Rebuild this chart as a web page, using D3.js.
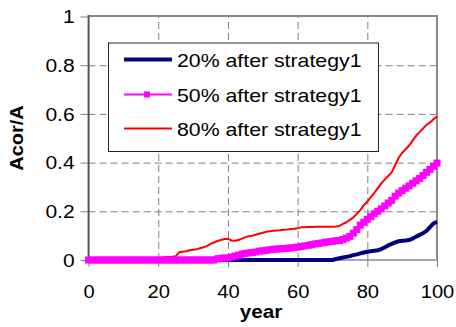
<!DOCTYPE html>
<html>
<head>
<meta charset="utf-8">
<script src="https://cdn.jsdelivr.net/npm/d3@7"></script>
<style>
  html, body { margin: 0; padding: 0; background: #fff; }
  svg { display: block; }
  text { font-family: "Liberation Sans", Arial, sans-serif; fill: #000; }
</style>
</head>
<body>
<svg id="chart" width="456" height="327"></svg>
<script>
// Share of area affected (Acor/A) per year for three strategy-1 scenarios
const years = d3.range(0, 101);

const series20 = [
  0,0,0,0,0,0,0,0,0,0, 0,0,0,0,0,0,0,0,0,0,
  0,0,0,0,0,0,0,0,0,0, 0,0,0,0,0,0,0,0,0,0,
  0,0,0,0,0,0,0,0,0,0, 0,0,0,0,0,0,0,0,0,0,
  0,0,0,0,0,0,0,0,0,0, 0,0.004,0.007,0.010,0.013,0.016,0.020,0.023,0.027,0.031,
  0.034,0.036,0.038,0.040,0.045,0.052,0.060,0.066,0.072,0.077,
  0.079,0.080,0.082,0.088,0.096,0.103,0.110,0.120,0.135,0.150,
  0.157
];

const series50 = [
  0,0,0,0,0,0,0,0,0,0, 0,0,0,0,0,0,0,0,0,0,
  0,0,0,0,0,0,0,0,0,0, 0,0,0,0,0,0,0,0.005,0.007,0.008,
  0.009,0.012,0.016,0.020,0.024,0.027,0.029,0.031,0.033,0.036,
  0.038,0.040,0.042,0.044,0.045,0.046,0.047,0.048,0.050,0.051,
  0.053,0.055,0.058,0.060,0.063,0.066,0.068,0.070,0.073,0.075,
  0.077,0.079,0.080,0.084,0.090,0.097,0.110,0.125,0.143,0.155,
  0.167,0.178,0.190,0.200,0.210,0.222,0.234,0.245,0.262,0.275,
  0.285,0.295,0.304,0.315,0.325,0.335,0.347,0.360,0.372,0.385,
  0.398
];

const series80 = [
  0,0,0,0,0,0,0,0,0,0, 0,0,0,0,0,0,0,0,0,0,
  0,0,0.012,0.012,0.013,0.015,0.032,0.034,0.036,0.040,
  0.042,0.044,0.048,0.052,0.058,0.066,0.072,0.078,0.082,0.086,
  0.087,0.080,0.079,0.082,0.088,0.094,0.098,0.100,0.104,0.108,
  0.112,0.116,0.118,0.120,0.121,0.122,0.124,0.125,0.127,0.128,
  0.130,0.134,0.135,0.136,0.136,0.137,0.137,0.137,0.137,0.137,
  0.137,0.138,0.140,0.148,0.155,0.165,0.175,0.190,0.205,0.225,
  0.240,0.258,0.275,0.295,0.315,0.330,0.345,0.360,0.390,0.420,
  0.440,0.455,0.470,0.490,0.510,0.525,0.540,0.555,0.565,0.578,
  0.590
];

const legendLabels = ["20% after strategy1", "50% after strategy1", "80% after strategy1"];
const xTicks = [0, 20, 40, 60, 80, 100];
const yTicks = [0, 0.2, 0.4, 0.6, 0.8, 1];

const svg = d3.select("#chart");
const plotLeft = 88.6, plotRight = 437, plotTop = 16.5, plotBottom = 260;
const x = d3.scaleLinear().domain([0, 100]).range([plotLeft, plotRight]);
const y = d3.scaleLinear().domain([0, 1]).range([plotBottom, plotTop]);

// widen a text element horizontally by factor k
function stretch(node, k) {
  const w = node.getComputedTextLength();
  d3.select(node).attr("textLength", w * k).attr("lengthAdjust", "spacingAndGlyphs");
}

const gridColor = "#808080";

// gridlines
const gridY = svg.append("g").attr("transform", `translate(${plotLeft},0)`)
  .call(d3.axisLeft(y).tickValues([0.2, 0.4, 0.6, 0.8]).tickSize(-(plotRight - plotLeft)).tickFormat(""));
gridY.select(".domain").remove();
gridY.selectAll("line").attr("stroke", gridColor).attr("stroke-dasharray", "7,4");

const gridX = svg.append("g").attr("transform", `translate(0,${plotBottom})`)
  .call(d3.axisBottom(x).tickValues([20, 40, 60, 80]).tickSize(-(plotBottom - plotTop)).tickFormat(""));
gridX.select(".domain").remove();
gridX.selectAll("line").attr("stroke", gridColor).attr("stroke-dasharray", "7,4");

// axes with outer ticks and labels
const yAxis = svg.append("g").attr("transform", `translate(${plotLeft},0)`)
  .call(d3.axisLeft(y).tickValues(yTicks).tickSize(8).tickPadding(6).tickFormat(d3.format("~g")));
yAxis.select(".domain").remove();
yAxis.selectAll("line").attr("stroke", gridColor);
yAxis.selectAll("text").attr("font-size", 17.5).attr("font-family", "Liberation Sans, Arial, sans-serif")
  .attr("dy", "0.36em").each(function () { stretch(this, 1.2); });

const xAxis = svg.append("g").attr("transform", `translate(0,${plotBottom})`)
  .call(d3.axisBottom(x).tickValues(xTicks).tickSize(7).tickFormat(d3.format("d")));
xAxis.select(".domain").remove();
xAxis.selectAll("line").attr("stroke", gridColor).attr("stroke-dasharray", "7,4");
xAxis.selectAll("text").attr("font-size", 17.5).attr("font-family", "Liberation Sans, Arial, sans-serif")
  .attr("y", 37.5).attr("dy", 0).each(function () { stretch(this, 1.15); });

// plot frame
svg.append("line").attr("x1", plotLeft).attr("x2", plotRight).attr("y1", plotTop - 0.5).attr("y2", plotTop - 0.5)
  .attr("stroke", "#8a8a8a").attr("stroke-width", 2);
svg.append("line").attr("x1", plotRight).attr("x2", plotRight).attr("y1", plotTop - 1.5).attr("y2", plotBottom + 1)
  .attr("stroke", "#8a8a8a").attr("stroke-width", 2);
svg.append("line").attr("x1", plotLeft).attr("x2", plotRight).attr("y1", plotBottom).attr("y2", plotBottom)
  .attr("stroke", "#8a8a8a").attr("stroke-width", 1.5);
svg.append("line").attr("x1", plotLeft).attr("x2", plotLeft).attr("y1", plotTop - 1.5).attr("y2", plotBottom + 1)
  .attr("stroke", "#555").attr("stroke-width", 2);

// data lines
const line = d3.line().x((d, i) => x(years[i])).y(d => y(d));

svg.append("path").datum(series20).attr("d", line)
  .attr("fill", "none").attr("stroke", "#000080").attr("stroke-width", 4).attr("stroke-linejoin", "round");
svg.append("path").datum(series80).attr("d", line)
  .attr("fill", "none").attr("stroke", "#ff0000").attr("stroke-width", 2).attr("stroke-linejoin", "round");
svg.append("path").datum(series50).attr("d", line)
  .attr("fill", "none").attr("stroke", "#ff00ff").attr("stroke-width", 3);
svg.append("g").selectAll("rect").data(series50).join("rect")
  .attr("x", (d, i) => x(years[i]) - 3.5).attr("y", d => y(d) - 3.5)
  .attr("width", 7).attr("height", 7).attr("fill", "#ff00ff");

// legend
const legend = svg.append("g");
legend.append("rect").attr("x", 108.5).attr("y", 43).attr("width", 270).attr("height", 108.5)
  .attr("fill", "#fff").attr("stroke", "#222").attr("stroke-width", 1);
const rowsY = [59.5, 94.5, 128.5];
const styles = [
  { color: "#000080", width: 4 },
  { color: "#ff00ff", width: 2 },
  { color: "#ff0000", width: 2 }
];
legendLabels.forEach((lab, i) => {
  legend.append("line").attr("x1", 124).attr("x2", 172).attr("y1", rowsY[i]).attr("y2", rowsY[i])
    .attr("stroke", styles[i].color).attr("stroke-width", styles[i].width);
  if (i === 1) {
    legend.append("rect").attr("x", 144).attr("y", rowsY[i] - 3).attr("width", 6).attr("height", 6)
      .attr("fill", "#ff00ff");
  }
  legend.append("text").attr("x", 177).attr("y", rowsY[i] + 7)
    .attr("font-size", 18.5).text(lab).each(function () { stretch(this, 1.15); });
});

// axis titles
svg.append("text").attr("transform", "translate(23,138) rotate(-90)")
  .attr("text-anchor", "middle").attr("font-weight", "bold").attr("font-size", 18.5)
  .text("Acor/A").each(function () { stretch(this, 1.08); });
svg.append("text").attr("x", 261).attr("y", 318)
  .attr("text-anchor", "middle").attr("font-weight", "bold").attr("font-size", 18.5)
  .text("year").each(function () { stretch(this, 1.12); });
</script>
</body>
</html>
